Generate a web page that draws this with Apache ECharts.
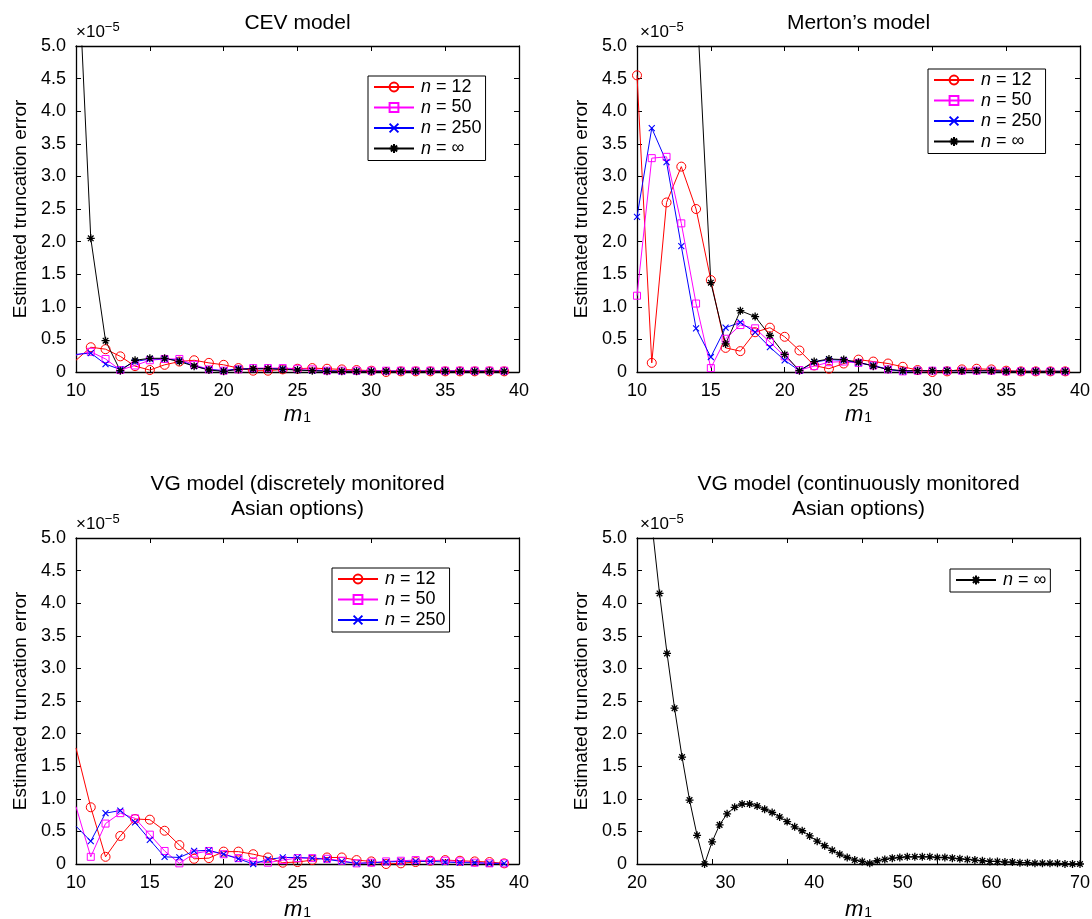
<!DOCTYPE html>
<html>
<head>
<meta charset="utf-8">
<title>Estimated truncation error</title>
<script src="https://cdn.jsdelivr.net/npm/echarts@6/dist/echarts.min.js"></script>
<style>
  html, body { margin: 0; padding: 0; background: #fff; }
  #main { width: 1092px; height: 919px; }
</style>
</head>
<body>
<div id="main"></div>
<script>
// all errors are in units of 1e-5 (the axes carry the x10^-5 factor)
var m1Short = [10, 11, 12, 13, 14, 15, 16, 17, 18, 19, 20, 21, 22, 23, 24, 25, 26, 27, 28, 29,
  30, 31, 32, 33, 34, 35, 36, 37, 38, 39];
var m1Long = [20, 21, 22, 23, 24, 25, 26, 27, 28, 29, 30, 31, 32, 33, 34, 35, 36, 37, 38, 39,
  40, 41, 42, 43, 44, 45, 46, 47, 48, 49, 50, 51, 52, 53, 54, 55, 56, 57, 58, 59,
  60, 61, 62, 63, 64, 65, 66, 67, 68, 69, 70, 71, 72, 73, 74, 75, 76, 77, 78, 79];

// CEV model
var cevN12 = [0.18, 0.38, 0.35, 0.24, 0.09, 0.03, 0.11, 0.16, 0.18, 0.14,
  0.11, 0.06, 0.02, 0.02, 0.04, 0.05, 0.06, 0.05, 0.04, 0.03,
  0.02, 0.00, 0.01, 0.01, 0.01, 0.01, 0.01, 0.01, 0.01, 0.01];
var cevN50 = [0.26, 0.31, 0.20, 0.03, 0.10, 0.18, 0.20, 0.20, 0.11, 0.04,
  0.02, 0.04, 0.06, 0.06, 0.06, 0.05, 0.04, 0.02, 0.02, 0.02,
  0.02, 0.02, 0.02, 0.02, 0.02, 0.02, 0.02, 0.02, 0.02, 0.02];
var cevN250 = [0.27, 0.29, 0.12, 0.04, 0.16, 0.20, 0.20, 0.18, 0.09, 0.04,
  0.02, 0.05, 0.05, 0.05, 0.05, 0.03, 0.02, 0.02, 0.01, 0.01,
  0.01, 0.01, 0.01, 0.01, 0.01, 0.01, 0.01, 0.01, 0.01, 0.01];
var cevInf = [7.0, 2.05, 0.48, 0.02, 0.18, 0.21, 0.21, 0.16, 0.09, 0.03,
  0.01, 0.04, 0.05, 0.05, 0.04, 0.03, 0.02, 0.01, 0.01, 0.01,
  0.01, 0.01, 0.01, 0.01, 0.01, 0.01, 0.01, 0.01, 0.01, 0.01];

// Merton's model
var mertonN12 = [4.55, 0.14, 2.60, 3.15, 2.50, 1.41, 0.37, 0.32, 0.61, 0.68,
  0.54, 0.33, 0.10, 0.05, 0.13, 0.19, 0.16, 0.13, 0.08, 0.03,
  0.00, 0.01, 0.04, 0.05, 0.04, 0.02, 0.01, 0.01, 0.01, 0.01];
var mertonN50 = [1.17, 3.28, 3.30, 2.28, 1.05, 0.06, 0.51, 0.72, 0.67, 0.46,
  0.24, 0.03, 0.09, 0.15, 0.16, 0.14, 0.10, 0.04, 0.01, 0.02,
  0.02, 0.02, 0.02, 0.02, 0.02, 0.01, 0.01, 0.01, 0.01, 0.01];
var mertonN250 = [2.38, 3.74, 3.22, 1.93, 0.67, 0.23, 0.68, 0.76, 0.61, 0.38,
  0.18, 0.02, 0.15, 0.19, 0.18, 0.14, 0.10, 0.04, 0.01, 0.02,
  0.02, 0.02, 0.02, 0.02, 0.02, 0.01, 0.01, 0.01, 0.01, 0.01];
var mertonInf = [14.0, 11.0, 9.0, 7.4, 5.9, 1.37, 0.43, 0.94, 0.85, 0.56,
  0.27, 0.02, 0.16, 0.20, 0.19, 0.15, 0.09, 0.04, 0.02, 0.02,
  0.02, 0.02, 0.02, 0.02, 0.02, 0.01, 0.01, 0.01, 0.01, 0.01];

// VG model, discretely monitored
var vgN12 = [1.78, 0.87, 0.11, 0.43, 0.69, 0.68, 0.51, 0.29, 0.08, 0.09,
  0.19, 0.19, 0.15, 0.10, 0.02, 0.03, 0.06, 0.10, 0.10, 0.06,
  0.04, 0.00, 0.01, 0.03, 0.05, 0.06, 0.05, 0.04, 0.03, 0.01];
var vgN50 = [0.88, 0.11, 0.62, 0.78, 0.70, 0.45, 0.20, 0.01, 0.16, 0.20,
  0.15, 0.09, 0.04, 0.02, 0.06, 0.09, 0.09, 0.08, 0.05, 0.01,
  0.02, 0.04, 0.05, 0.06, 0.05, 0.05, 0.04, 0.02, 0.01, 0.01];
var vgN250 = [0.58, 0.35, 0.78, 0.82, 0.64, 0.37, 0.11, 0.10, 0.20, 0.21,
  0.15, 0.08, 0.00, 0.07, 0.10, 0.10, 0.09, 0.07, 0.04, 0.01,
  0.02, 0.03, 0.04, 0.04, 0.04, 0.03, 0.02, 0.02, 0.01, 0.01];

// VG model, continuously monitored
var vgContInf = [7.5, 6.3, 5.2, 4.15, 3.23, 2.39, 1.64, 0.98, 0.44, 0.00,
  0.34, 0.60, 0.77, 0.87, 0.92, 0.92, 0.89, 0.84, 0.79, 0.72,
  0.65, 0.57, 0.51, 0.43, 0.35, 0.28, 0.21, 0.15, 0.10, 0.06,
  0.04, 0.01, 0.05, 0.07, 0.09, 0.10, 0.11, 0.11, 0.11, 0.11,
  0.10, 0.10, 0.09, 0.08, 0.07, 0.06, 0.05, 0.04, 0.04, 0.03,
  0.03, 0.02, 0.02, 0.01, 0.01, 0.01, 0.01, 0.00, 0.00, 0.00];

var yTicks = [0, 0.5, 1.0, 1.5, 2.0, 2.5, 3.0, 3.5, 4.0, 4.5, 5.0];
var titles = ["CEV model", "Merton\u2019s model",
  "VG model (discretely monitored\nAsian options)",
  "VG model (continuously monitored\nAsian options)"];

var FONT = '"Liberation Sans", Arial, Helvetica, sans-serif';

var grids = [
  { left: 76, top: 46, width: 443, height: 326 },
  { left: 637, top: 46, width: 443, height: 326 },
  { left: 76, top: 538, width: 443, height: 326 },
  { left: 637, top: 538, width: 443, height: 326 }
];
grids.forEach(function (g) { g.outerBoundsMode = "none"; g.containLabel = false; });

var xAxes = [];
var yAxes = [];

function axis(grid, position, min, max, step, showLabels, showTicks) {
  return {
    type: "value",
    gridIndex: grid,
    position: position,
    min: min,
    max: max,
    interval: step,
    axisLine: { show: true, onZero: false, lineStyle: { color: "#000", width: 1.3 } },
    axisTick: { show: showTicks, inside: true, length: 5, lineStyle: { color: "#000", width: 1 } },
    axisLabel: {
      show: showLabels,
      color: "#000",
      fontSize: 18,
      fontFamily: FONT,
      margin: 10,
      showMinLabel: true,
      showMaxLabel: true,
      hideOverlap: false
    },
    splitLine: { show: false },
    silent: true
  };
}

function m1Name(gap) {
  return {
    name: "{i|m}{s|1}",
    nameLocation: "middle",
    nameGap: gap,
    nameTextStyle: {
      rich: {
        i: { fontStyle: "italic", fontSize: 22, lineHeight: 21, fontFamily: FONT, color: "#000" },
        s: { fontSize: 14, lineHeight: 14, padding: [7, 0, 0, 1], fontFamily: FONT, color: "#000" }
      }
    }
  };
}

function addPanelAxes(g, xMin, xMax, xStep, tickMax) {
  var ax = {};
  var bottom = axis(g, "bottom", xMin, xMax, xStep, true, tickMax == null);
  Object.assign(bottom, m1Name(g < 2 ? 32 : 35));
  ax.xLabel = xAxes.push(bottom) - 1;
  ax.x = ax.xLabel;
  if (tickMax != null) {
    // ticks in the picture follow the data scale, not the labels
    var t = axis(g, "bottom", xMin, tickMax, xStep, false, true);
    t.axisLine.show = false;
    ax.x = xAxes.push(t) - 1;
  }
  xAxes.push(axis(g, "top", xMin, tickMax == null ? xMax : tickMax, xStep, false, true));

  var left = axis(g, "left", yTicks[0], yTicks[yTicks.length - 1], 0.5, true, true);
  left.axisLabel.formatter = function (v) { return v === 0 ? "0" : v.toFixed(1); };
  left.name = "Estimated truncation error";
  left.nameLocation = "middle";
  left.nameRotate = 90;
  left.nameGap = 46;
  left.nameTextStyle = { fontSize: 19, fontFamily: FONT, color: "#000" };
  ax.y = yAxes.push(left) - 1;
  yAxes.push(axis(g, "right", yTicks[0], yTicks[yTicks.length - 1], 0.5, false, true));
  return ax;
}

var ax0 = addPanelAxes(0, 10, 40, 5);
var ax1 = addPanelAxes(1, 10, 40, 5);
var ax2 = addPanelAxes(2, 10, 40, 5);
var ax3 = addPanelAxes(3, 20, 70, 10, 79);

var marks = {
  n12: { symbol: "circle", size: 9, color: "#ff0000", bw: 1 },
  n50: { symbol: "rect", size: 7, color: "#ff00ff", bw: 1 },
  n250: { symbol: "path://M0,0L10,10M10,0L0,10", size: 6, color: "#0000ff", bw: 1.1 },
  inf: { symbol: "path://M5,0L5,10M0,5L10,5M1.5,1.5L8.5,8.5M8.5,1.5L1.5,8.5", size: 8, color: "#000", bw: 1.3 }
};

function lineSeries(name, xs, ys, ax, mk, hideFirst) {
  var data = xs.map(function (x, i) {
    var item = { value: [x, ys[i]] };
    if (hideFirst && i === 0) item.symbol = "none";
    return item;
  });
  return {
    name: name,
    type: "line",
    xAxisIndex: ax.x,
    yAxisIndex: ax.y,
    data: data,
    symbol: mk.symbol,
    symbolSize: mk.size,
    showSymbol: true,
    showAllSymbol: true,
    clip: true,
    lineStyle: { color: mk.color, width: 1 },
    itemStyle: { color: "none", borderColor: mk.color, borderWidth: mk.bw },
    emphasis: { disabled: true }
  };
}

var series = [
  lineSeries("n = 12", m1Short, cevN12, ax0, marks.n12, true),
  lineSeries("n = 50", m1Short, cevN50, ax0, marks.n50, true),
  lineSeries("n = 250", m1Short, cevN250, ax0, marks.n250, true),
  lineSeries("n = \u221e", m1Short, cevInf, ax0, marks.inf, true),

  lineSeries("n = 12", m1Short, mertonN12, ax1, marks.n12),
  lineSeries("n = 50", m1Short, mertonN50, ax1, marks.n50),
  lineSeries("n = 250", m1Short, mertonN250, ax1, marks.n250),
  lineSeries("n = \u221e", m1Short, mertonInf, ax1, marks.inf),

  lineSeries("n = 12", m1Short, vgN12, ax2, marks.n12, true),
  lineSeries("n = 50", m1Short, vgN50, ax2, marks.n50, true),
  lineSeries("n = 250", m1Short, vgN250, ax2, marks.n250, true),

  lineSeries("n = \u221e", m1Long, vgContInf, ax3, marks.inf)
];

function legendBox(left, top, names) {
  return {
    orient: "vertical",
    left: left,
    top: top,
    data: names,
    itemWidth: 40,
    itemHeight: 11,
    itemGap: 2.5,
    padding: [2, 4, 3, 5],
    borderColor: "#000",
    borderWidth: 1,
    backgroundColor: "#fff",
    selectedMode: false,
    formatter: function (name) { return "{i|n}" + name.slice(1); },
    textStyle: {
      color: "#000",
      fontSize: 18,
      lineHeight: 18,
      fontFamily: FONT,
      padding: [0, 0, 0, 2],
      rich: { i: { fontStyle: "italic", fontSize: 18, fontFamily: FONT, color: "#000" } }
    }
  };
}

var allN = ["n = 12", "n = 50", "n = 250", "n = \u221e"];

var graphic = [];
grids.forEach(function (g, i) {
  graphic.push({
    type: "text",
    x: g.left + g.width / 2,
    y: i < 2 ? 23 : g.top - 41,
    style: {
      text: titles[i],
      fill: "#000",
      fontSize: 21,
      fontFamily: FONT,
      lineHeight: 25,
      align: "center",
      verticalAlign: "middle"
    }
  });
  graphic.push({
    type: "text",
    x: g.left + (i % 2 === 0 ? 0 : 3),
    y: g.top - 8,
    style: {
      text: "{a|\u00d710}{b|\u22125}",
      fontSize: 17,
      fontFamily: FONT,
      fill: "#000",
      verticalAlign: "bottom",
      rich: {
        a: { fontSize: 17, lineHeight: 17, padding: [5, 0, 0, 0], fontFamily: FONT, fill: "#000" },
        b: { fontSize: 13, lineHeight: 13, verticalAlign: "top", fontFamily: FONT, fill: "#000" }
      }
    }
  });
});

var chart = echarts.init(document.getElementById("main"), null, { renderer: "canvas" });
chart.setOption({
  animation: false,
  backgroundColor: "#fff",
  grid: grids,
  xAxis: xAxes,
  yAxis: yAxes,
  legend: [
    legendBox(368, 76, allN),
    legendBox(928, 69, allN),
    legendBox(332, 568, ["n = 12", "n = 50", "n = 250"]),
    legendBox(950, 569, ["n = \u221e"])
  ],
  graphic: graphic,
  series: series
});
</script>
</body>
</html>
